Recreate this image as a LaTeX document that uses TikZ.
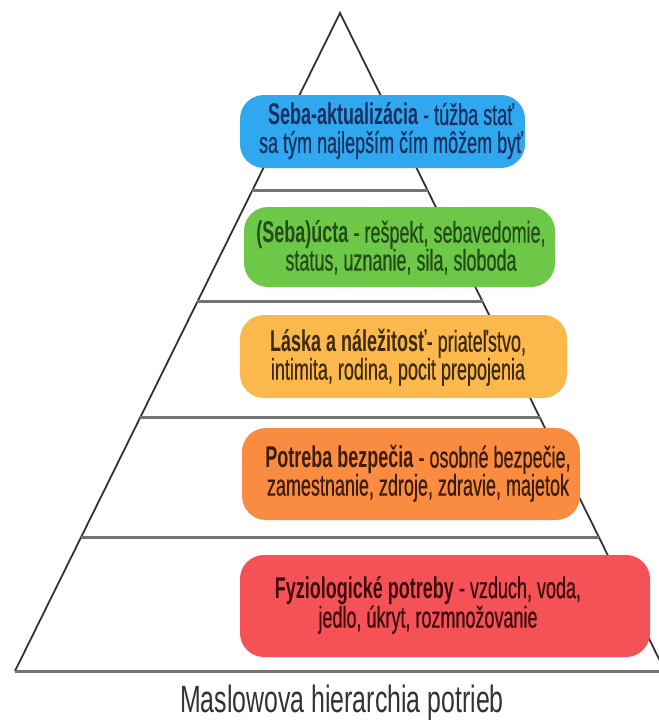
\documentclass[tikz,border=0pt]{standalone}
\usepackage{fontspec}
\newfontfamily\boxfont[FakeStretch=0.6,UprightFeatures={FakeBold=0.5}]{Liberation Sans}
\newfontfamily\titlefont[FakeStretch=0.655]{Liberation Sans}
\usetikzlibrary{calc}
\definecolor{cblue}{RGB}{48,168,240}
\definecolor{cgreen}{RGB}{108,200,70}
\definecolor{cyellow}{RGB}{251,184,76}
\definecolor{corange}{RGB}{250,140,66}
\definecolor{cred}{RGB}{245,82,88}
\definecolor{tblue}{RGB}{27,47,94}
\definecolor{tgreen}{RGB}{35,77,24}
\definecolor{tyellow}{RGB}{61,42,15}
\definecolor{torange}{RGB}{59,29,12}
\definecolor{tred}{RGB}{61,13,13}
\definecolor{edgec}{RGB}{50,50,50}
\definecolor{linec}{RGB}{115,115,115}
\begin{document}
\begin{tikzpicture}[x=1pt,y=-1pt,
  edge/.style={draw=edgec,line width=1.8pt},
  level/.style={draw=linec,line width=3pt},
  blob/.style={rectangle,rounded corners=24pt,inner sep=0pt},
  btext/.style={align=center,inner sep=0pt,font=\boxfont\fontsize{30}{28}\selectfont},
  title/.style={inner sep=0pt,text=black!80,font=\titlefont\fontsize{38}{40}\selectfont}]
\useasboundingbox (0,0) rectangle (659,724);
\coordinate (apex) at (340,13);
\coordinate (bl) at (15,671);
\coordinate (br) at (665,671);
\begin{scope}
\clip (0,0) rectangle (659,724);
\draw[edge] (bl) -- (apex) -- (br);
\draw[level] (bl) -- (br);
\coordinate (l1a) at ($(apex)!0.2705!(bl)$);
\coordinate (l1b) at ($(apex)!0.2705!(br)$);
\coordinate (l2a) at ($(apex)!0.4392!(bl)$);
\coordinate (l2b) at ($(apex)!0.4392!(br)$);
\coordinate (l3a) at ($(apex)!0.6140!(bl)$);
\coordinate (l3b) at ($(apex)!0.6140!(br)$);
\coordinate (l4a) at ($(apex)!0.7964!(bl)$);
\coordinate (l4b) at ($(apex)!0.7964!(br)$);
\draw[level] (l1a) -- (l1b);
\draw[level] (l2a) -- (l2b);
\draw[level] (l3a) -- (l3b);
\draw[level] (l4a) -- (l4b);
\end{scope}

\node[blob,fill=cblue,minimum width=285pt,minimum height=73pt] (b1) at (382.5,131.5) {};
\node[blob,fill=cgreen,minimum width=311pt,minimum height=80pt] (b2) at (399.5,247) {};
\node[blob,fill=cyellow,minimum width=327pt,minimum height=83pt] (b3) at (403.5,356.5) {};
\node[blob,fill=corange,minimum width=338pt,minimum height=92pt] (b4) at (411,474) {};
\node[blob,fill=cred,minimum width=410pt,minimum height=102pt] (b5) at (445,606) {};

\node[btext,text=tblue] (t1) at (391,131) {\textbf{Seba-aktualizácia} - túžba stať\\sa tým najlepším čím môžem byť};
\node[btext,text=tgreen] (t2) at (401,247.5) {\textbf{(Seba)úcta} - rešpekt, sebavedomie,\\status, uznanie, sila, sloboda};
\node[btext,text=tyellow] (t3) at (398,357.5) {\textbf{Láska a náležitosť}- priateľstvo,\\intimita, rodina, pocit prepojenia};
\node[btext,text=torange] (t4) at (418,473.5) {\textbf{Potreba bezpečia} - osobné bezpečie,\\zamestnanie, zdroje, zdravie, majetok};
\node[btext,text=tred] (t5) at (428,605) {\textbf{Fyziologické potreby} - vzduch, voda,\\jedlo, úkryt, rozmnožovanie};

\node[title] (title) at (342,703) {Maslowova hierarchia potrieb};
\end{tikzpicture}
\end{document}
